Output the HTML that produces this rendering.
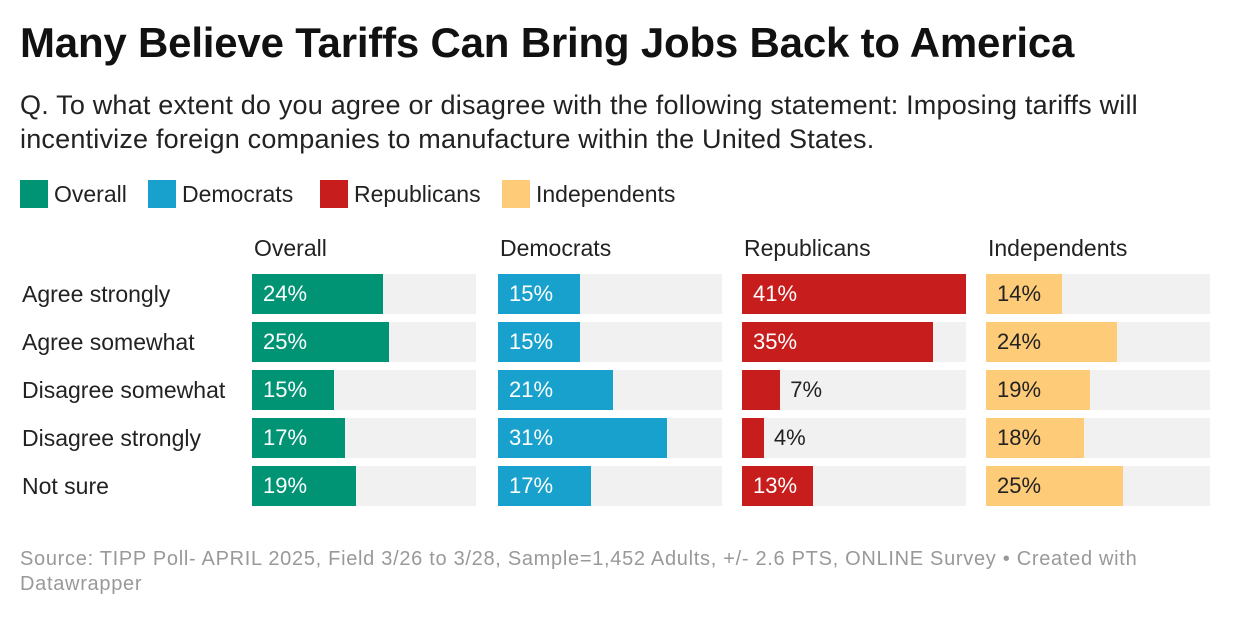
<!DOCTYPE html>
<html><head><meta charset="utf-8"><style>
body{margin:0;background:#fff;font-family:"Liberation Sans",Arial,sans-serif;width:1240px;height:620px;overflow:hidden;position:relative;color:#222}
.abs{position:absolute;white-space:nowrap}
h1{position:absolute;left:20px;top:19px;margin:0;font-size:42px;font-weight:bold;color:#111;letter-spacing:-0.2px;white-space:nowrap}
.sub{left:20px;top:88px;font-size:27px;letter-spacing:0.2px;line-height:34px;color:#222}
.leg{top:180px;font-size:23px;display:flex;align-items:center}
.sw{width:28px;height:28px;display:inline-block;margin-right:6px}
.hdr{top:235px;font-size:23px}
.rl{left:22px;font-size:23px}
.src{left:20px;top:547px;font-size:20px;letter-spacing:0.7px;line-height:25px;color:#999}
</style></head><body>
<h1>Many Believe Tariffs Can Bring Jobs Back to America</h1>
<div class="abs sub">Q. To what extent do you agree or disagree with the following statement: Imposing tariffs will<br>incentivize foreign companies to manufacture within the United States.</div>
<div id="legend"></div>
<div id="chart"></div>
<div class="abs src">Source: TIPP Poll- APRIL 2025, Field 3/26 to 3/28, Sample=1,452 Adults, +/- 2.6 PTS, ONLINE Survey • Created with<br>Datawrapper</div>
<script>
const categories=["Agree strongly","Agree somewhat","Disagree somewhat","Disagree strongly","Not sure"];
const groups=["Overall","Democrats","Republicans","Independents"];
const overall=[24,25,15,17,19];
const democrats=[15,15,21,31,17];
const republicans=[41,35,7,4,13];
const independents=[14,24,19,18,25];
const series=[overall,democrats,republicans,independents];
const colors=["#009474","#18a1cd","#c71e1d","#fecb78"];
const maxV=41;
const panelX=[252,498,742,986], panelW=224, rowY0=274, rowH=40, rowStep=48;
const x=v=>v/maxV*panelW;
const legend=document.getElementById('legend');
const legX=[20,148,320,502];
groups.forEach((g,i)=>{
  const d=document.createElement('div');d.className='abs leg';d.style.left=legX[i]+'px';
  
  
  d.innerHTML='<span class="sw" style="background:'+colors[i]+'"></span>'+g;
  legend.appendChild(d);
});
const chart=document.getElementById('chart');
categories.forEach((c,r)=>{
  const l=document.createElement('div');l.className='abs rl';l.style.top=(rowY0+r*rowStep+7)+'px';l.textContent=c;
  
  
  chart.appendChild(l);
});
groups.forEach((g,i)=>{
  const h=document.createElement('div');h.className='abs hdr';h.style.left=(panelX[i]+2)+'px';h.textContent=g;
  
  
  chart.appendChild(h);
  series[i].forEach((v,r)=>{
    const y=rowY0+r*rowStep;
    const bg=document.createElement('div');bg.className='abs';
    bg.style.cssText=`left:${panelX[i]}px;top:${y}px;width:${panelW}px;height:${rowH}px;background:#f1f1f1`;
    
    
    chart.appendChild(bg);
    const w=x(v);
    const b=document.createElement('div');b.className='abs';
    b.style.cssText=`left:${panelX[i]}px;top:${y}px;width:${w}px;height:${rowH}px;background:${colors[i]}`;
    
    
    chart.appendChild(b);
    const t=document.createElement('div');t.className='abs';
    const inside=w>50;
    const lx=inside?panelX[i]+11:panelX[i]+w+10;
    const col=(i===3||!inside)?'#222':'#fff';
    t.style.cssText=`left:${lx}px;top:${y+7}px;font-size:22px;color:${col}`;
    t.textContent=v+'%';
    
    
    chart.appendChild(t);
  });
});
</script>
</body></html>
